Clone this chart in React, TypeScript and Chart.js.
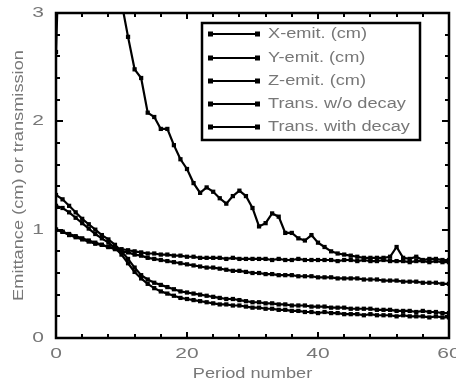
import React, { useEffect, useRef } from "react";
import { Chart, registerables } from "chart.js";

Chart.register(...registerables);

// ---- data ----
const periods = [
  0, 1, 2, 3, 4, 5, 6, 7, 8, 9, 10, 11, 12, 13, 14, 15, 16, 17, 18, 19, 20,
  21, 22, 23, 24, 25, 26, 27, 28, 29, 30, 31, 32, 33, 34, 35, 36, 37, 38, 39, 40,
  41, 42, 43, 44, 45, 46, 47, 48, 49, 50, 51, 52, 53, 54, 55, 56, 57, 58, 59, 60,
];

const xEmit = [
  1.32, 1.28, 1.22, 1.16, 1.1, 1.05, 1.0, 0.95, 0.91, 0.86, 0.8,
  0.73, 0.65, 0.58, 0.54, 0.51, 0.49, 0.47, 0.45, 0.43, 0.42,
  0.41, 0.4, 0.39, 0.38, 0.37, 0.36, 0.36, 0.35, 0.34, 0.33,
  0.33, 0.32, 0.32, 0.31, 0.31, 0.3, 0.3, 0.3, 0.29, 0.29,
  0.29, 0.28, 0.28, 0.28, 0.27, 0.27, 0.27, 0.27, 0.26, 0.26,
  0.26, 0.25, 0.25, 0.25, 0.24, 0.25, 0.24, 0.24, 0.23, 0.23,
];

const yEmit = [
  1.22, 1.2, 1.16, 1.11, 1.06, 1.01, 0.96, 0.92, 0.88, 0.83, 0.77,
  0.69, 0.61, 0.55, 0.5, 0.46, 0.43, 0.41, 0.39, 0.37, 0.36,
  0.35, 0.34, 0.33, 0.32, 0.31, 0.31, 0.3, 0.3, 0.29, 0.28,
  0.28, 0.27, 0.27, 0.26, 0.26, 0.25, 0.25, 0.24, 0.24, 0.23,
  0.24, 0.23, 0.23, 0.22, 0.22, 0.22, 0.21, 0.22, 0.21, 0.21,
  0.21, 0.2, 0.21, 0.2, 0.2, 0.2, 0.19, 0.2, 0.19, 0.19,
];

const zEmit = [
  2.64, 4.6, 4.4, 4.1, 3.9, 3.75, 3.6, 3.5, 3.4, 3.3, 3.1,
  2.78, 2.48, 2.4, 2.08, 2.04, 1.93, 1.93, 1.78, 1.65, 1.56,
  1.43, 1.34, 1.39, 1.35, 1.29, 1.24, 1.31, 1.36, 1.31, 1.2,
  1.03, 1.06, 1.15, 1.12, 0.97, 0.97, 0.92, 0.9, 0.95, 0.88,
  0.84, 0.8, 0.78, 0.77, 0.76, 0.75, 0.74, 0.74, 0.74, 0.74,
  0.75, 0.84, 0.74, 0.73, 0.75, 0.72, 0.73, 0.73, 0.72, 0.72,
];

const transNoDecay = [
  1.0, 0.98, 0.95, 0.93, 0.91, 0.89, 0.87, 0.86, 0.84, 0.83, 0.82,
  0.81, 0.8, 0.79, 0.78, 0.78, 0.77, 0.77, 0.76, 0.76, 0.75,
  0.75, 0.74, 0.74, 0.74, 0.74, 0.73, 0.74, 0.73, 0.73, 0.73,
  0.73, 0.73, 0.72, 0.73, 0.72, 0.72, 0.73, 0.72, 0.72, 0.72,
  0.72, 0.72, 0.71, 0.72, 0.72, 0.71, 0.72, 0.71, 0.71, 0.72,
  0.71, 0.71, 0.71, 0.7, 0.71, 0.71, 0.7, 0.71, 0.7, 0.7,
];

const transDecay = [
  1.0, 0.98, 0.96, 0.94, 0.92, 0.9, 0.88, 0.86, 0.84, 0.82, 0.8,
  0.79, 0.77, 0.76, 0.74, 0.73, 0.72, 0.71, 0.7, 0.69, 0.68,
  0.67, 0.66, 0.65, 0.65, 0.64, 0.63, 0.62, 0.62, 0.61, 0.6,
  0.6, 0.59, 0.59, 0.58, 0.58, 0.58, 0.57, 0.57, 0.57, 0.56,
  0.56, 0.56, 0.55, 0.55, 0.55, 0.55, 0.54, 0.54, 0.54, 0.53,
  0.53, 0.53, 0.52, 0.52, 0.52, 0.51, 0.51, 0.51, 0.5, 0.5,
];

const seriesNames = [
  "X-emit. (cm)",
  "Y-emit. (cm)",
  "Z-emit. (cm)",
  "Trans. w/o decay",
  "Trans. with decay",
];
const seriesValues = [xEmit, yEmit, zEmit, transNoDecay, transDecay];

const xTickLabels = [0, 20, 40, 60];
const yTickLabels = [0, 1, 2, 3];
const xMinorStep = 4;
const yMinorStep = 0.2;
const xTitle = "Period number";
const yTitle = "Emittance (cm) or transmission";

// ---- styling ----
const TEXT_COLOR = "#777777";
const FONT_FAMILY = '"Liberation Sans", Arial, sans-serif';
const STRETCH = 1.3;

function stretchedText(
  ctx: CanvasRenderingContext2D,
  text: string,
  x: number,
  y: number,
  size: number,
  align: CanvasTextAlign,
  sx: number,
  rotate = 0
) {
  ctx.save();
  ctx.translate(x, y);
  if (rotate) ctx.rotate(rotate);
  ctx.scale(sx, 1);
  ctx.font = `${size}px ${FONT_FAMILY}`;
  ctx.fillStyle = TEXT_COLOR;
  ctx.textAlign = align;
  ctx.textBaseline = "middle";
  ctx.fillText(text, 0, 0);
  ctx.restore();
}

const framePlugin = {
  id: "framePlugin",
  afterDraw(chart: any) {
    const ctx: CanvasRenderingContext2D = chart.ctx;
    const { left, right, top, bottom } = chart.chartArea;
    const xs = chart.scales.x;
    const ys = chart.scales.y;
    ctx.save();
    ctx.strokeStyle = "#000";
    ctx.lineWidth = 2.5;
    ctx.strokeRect(left, top, right - left, bottom - top);

    ctx.lineWidth = 2;
    // x ticks (bottom & top, inward)
    for (let v = xs.min; v <= xs.max + 1e-6; v += xMinorStep) {
      const px = Math.round(xs.getPixelForValue(v));
      const major = xTickLabels.some((t) => Math.abs(t - v) < 1e-6);
      const len = major ? 6 : 4;
      ctx.beginPath();
      ctx.moveTo(px, bottom);
      ctx.lineTo(px, bottom - len);
      ctx.moveTo(px, top);
      ctx.lineTo(px, top + len);
      ctx.stroke();
    }
    // y ticks (left & right, inward)
    for (let v = ys.min; v <= ys.max + 1e-6; v += yMinorStep) {
      const py = Math.round(ys.getPixelForValue(v));
      const major = yTickLabels.some((t) => Math.abs(t - v) < 1e-6);
      const len = major ? 7 : 4;
      ctx.beginPath();
      ctx.moveTo(left, py);
      ctx.lineTo(left + len, py);
      ctx.moveTo(right, py);
      ctx.lineTo(right - len, py);
      ctx.stroke();
    }

    // tick labels
    xTickLabels.forEach((t) => {
      stretchedText(ctx, String(t), xs.getPixelForValue(t), 354, 15, "center", 1.4);
    });
    yTickLabels.forEach((t) => {
      stretchedText(ctx, String(t), 44, ys.getPixelForValue(t), 15, "right", 1.4);
    });

    // axis titles
    stretchedText(ctx, xTitle, (left + right) / 2, 374, 14, "center", STRETCH);
    stretchedText(ctx, yTitle, 19, (top + bottom) / 2, 14, "center", STRETCH, -Math.PI / 2);

    // legend
    const bx = 202, by = 23, bw = 218, bh = 117;
    ctx.fillStyle = "#fff";
    ctx.fillRect(bx, by, bw, bh);
    ctx.lineWidth = 2.5;
    ctx.strokeStyle = "#000";
    ctx.strokeRect(bx, by, bw, bh);
    const rows = [34, 58, 81, 104, 127];
    seriesNames.forEach((name, i) => {
      const y = rows[i];
      ctx.beginPath();
      ctx.lineWidth = 2.2;
      ctx.moveTo(211, y);
      ctx.lineTo(258, y);
      ctx.stroke();
      ctx.fillStyle = "#000";
      ctx.fillRect(208, y - 2.5, 5, 5);
      ctx.fillRect(255, y - 2.5, 5, 5);
      stretchedText(ctx, name, 268, y, 14, "left", STRETCH);
    });
    ctx.restore();
  },
};

export default function App() {
  const canvasRef = useRef<HTMLCanvasElement | null>(null);

  useEffect(() => {
    if (!canvasRef.current) return;
    const datasets = seriesNames.map((name, i) => ({
      label: name,
      data: periods.map((p, j) => ({ x: p, y: seriesValues[i][j] })),
      borderColor: "#000",
      backgroundColor: "#000",
      borderWidth: 2.2,
      pointStyle: "rect" as const,
      pointRadius: 3,
      pointBorderWidth: 0,
      pointBackgroundColor: "#000",
      tension: 0,
      fill: false,
    }));
    const chart = new Chart(canvasRef.current, {
      type: "line",
      data: { datasets },
      options: {
        animation: false,
        responsive: false,
        devicePixelRatio: 1,
        layout: { padding: { left: 56, top: 13, right: 7, bottom: 52 } },
        plugins: { legend: { display: false }, tooltip: { enabled: false } },
        scales: {
          x: { type: "linear", min: 0, max: 60, display: false },
          y: { type: "linear", min: 0, max: 3, display: false },
        },
      },
      plugins: [framePlugin],
    });
    return () => chart.destroy();
  }, []);

  return (
    <div style={{ position: "fixed", left: 0, top: 0, width: 456, height: 390, background: "#fff" }}>
      <canvas ref={canvasRef} width={456} height={390} style={{ display: "block" }} />
    </div>
  );
}
